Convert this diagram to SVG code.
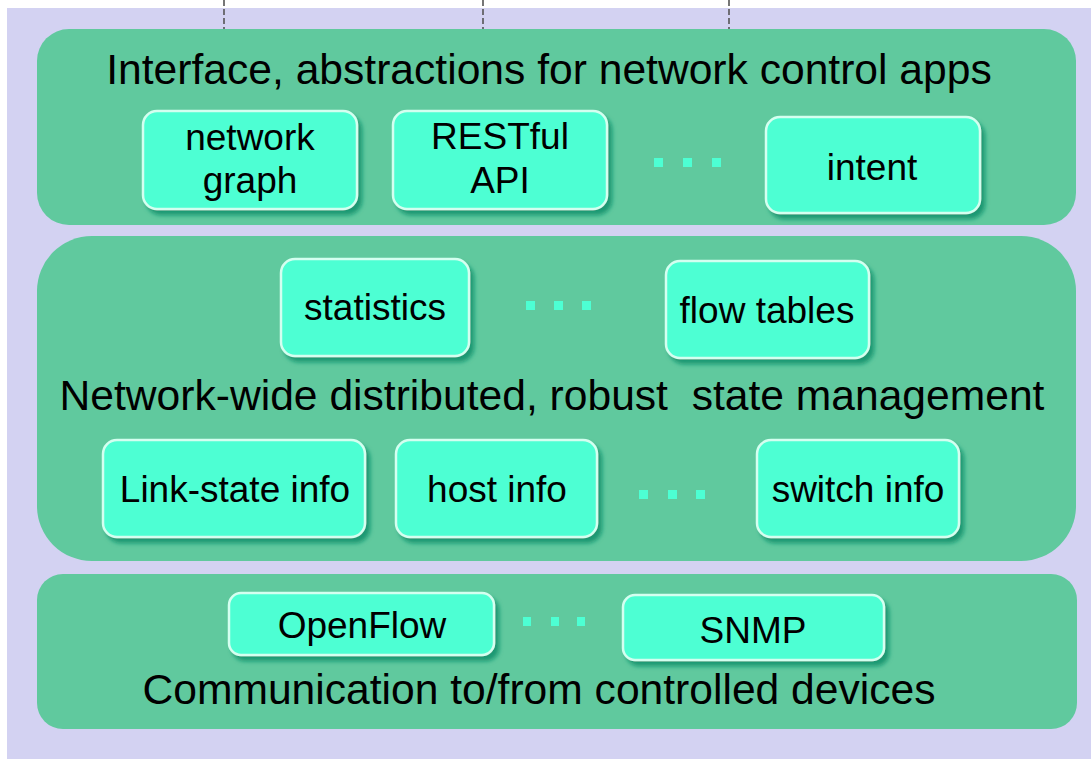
<svg xmlns="http://www.w3.org/2000/svg" width="1091" height="759" viewBox="0 0 1091 759">
  <defs>
    <filter id="boxShadow" x="-10%" y="-10%" width="125%" height="135%">
      <feDropShadow dx="4" dy="5" stdDeviation="2.2" flood-color="#0b8f6c" flood-opacity="0.85"/>
    </filter>
    <style>
      .layer { fill: #60c99e; }
      .box { fill: #4dffd3; stroke: #d4fff0; stroke-width: 2.5; filter: url(#boxShadow); }
      .dot { fill: #4dffd3; }
      .title { font-family: "Liberation Sans", Arial, sans-serif; font-size: 42.6px; fill: #000; text-anchor: middle; }
      .label { font-family: "Liberation Sans", Arial, sans-serif; font-size: 37px; fill: #000; text-anchor: middle; }
      .link { stroke: #555; stroke-width: 1.6; stroke-dasharray: 6 3; fill: none; }
    </style>
  </defs>

  <rect x="0" y="0" width="1091" height="759" fill="#ffffff"/>
  <rect x="7" y="8" width="1084" height="751" fill="#d3d2f2"/>

  <!-- connectors to the applications above -->
  <g id="connectors">
    <line class="link" x1="224" y1="0" x2="224" y2="29"/>
    <line class="link" x1="483" y1="0" x2="483" y2="29"/>
    <line class="link" x1="729" y1="0" x2="729" y2="29"/>
  </g>

  <!-- northbound interface layer -->
  <g id="layer-interface">
    <rect class="layer" x="37" y="29" width="1039" height="196" rx="32" ry="32"/>
    <text class="title" x="549" y="84">Interface, abstractions for network control apps</text>
  </g>
  <g id="node-network-graph">
    <rect class="box" x="143" y="111" width="214" height="98" rx="14"/>
    <text class="label" x="250" y="150">network</text>
    <text class="label" x="250" y="193">graph</text>
  </g>
  <g id="node-restful-api">
    <rect class="box" x="393" y="111" width="214" height="98" rx="14"/>
    <text class="label" x="500" y="149">RESTful</text>
    <text class="label" x="500" y="193">API</text>
  </g>
  <g id="dots-interface">
    <rect class="dot" x="654" y="158" width="9" height="9"/>
    <rect class="dot" x="683" y="158" width="9" height="9"/>
    <rect class="dot" x="712" y="158" width="9" height="9"/>
  </g>
  <g id="node-intent">
    <rect class="box" x="766" y="117" width="214" height="96" rx="14"/>
    <text class="label" x="872" y="180">intent</text>
  </g>

  <!-- state management layer -->
  <g id="layer-state">
    <rect class="layer" x="37" y="236" width="1039" height="325" rx="55" ry="55"/>
    <text class="title" x="552" y="410" xml:space="preserve">Network-wide distributed, robust  state management</text>
  </g>
  <g id="node-statistics">
    <rect class="box" x="281" y="259" width="188" height="97" rx="14"/>
    <text class="label" x="375" y="320">statistics</text>
  </g>
  <g id="dots-state-top">
    <rect class="dot" x="526" y="301" width="9" height="9"/>
    <rect class="dot" x="554" y="301" width="9" height="9"/>
    <rect class="dot" x="582" y="301" width="9" height="9"/>
  </g>
  <g id="node-flow-tables">
    <rect class="box" x="666" y="261" width="203" height="97" rx="14"/>
    <text class="label" x="767" y="323">flow tables</text>
  </g>
  <g id="node-link-state">
    <rect class="box" x="103" y="440" width="262" height="97" rx="14"/>
    <text class="label" x="235" y="502">Link-state info</text>
  </g>
  <g id="node-host-info">
    <rect class="box" x="396" y="440" width="201" height="97" rx="14"/>
    <text class="label" x="497" y="502">host info</text>
  </g>
  <g id="dots-state-bottom">
    <rect class="dot" x="639" y="490" width="9" height="9"/>
    <rect class="dot" x="668" y="490" width="9" height="9"/>
    <rect class="dot" x="696" y="490" width="9" height="9"/>
  </g>
  <g id="node-switch-info">
    <rect class="box" x="757" y="440" width="202" height="97" rx="14"/>
    <text class="label" x="858" y="502">switch info</text>
  </g>

  <!-- southbound communication layer -->
  <g id="layer-communication">
    <rect class="layer" x="37" y="574" width="1040" height="155" rx="26" ry="26"/>
    <text class="title" x="539" y="704">Communication to/from controlled devices</text>
  </g>
  <g id="node-openflow">
    <rect class="box" x="229" y="593" width="265" height="62" rx="12"/>
    <text class="label" x="362" y="638">OpenFlow</text>
  </g>
  <g id="dots-communication">
    <rect class="dot" x="523" y="617" width="8" height="9"/>
    <rect class="dot" x="551" y="617" width="8" height="9"/>
    <rect class="dot" x="577" y="617" width="8" height="9"/>
  </g>
  <g id="node-snmp">
    <rect class="box" x="623" y="595" width="261" height="65" rx="12"/>
    <text class="label" x="753" y="643">SNMP</text>
  </g>
</svg>
